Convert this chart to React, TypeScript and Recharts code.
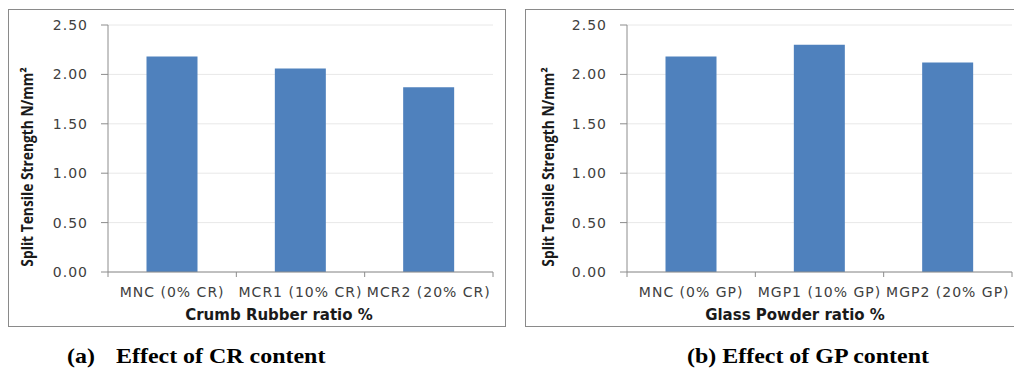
import React from "react";
import { BarChart, Bar, XAxis, YAxis, CartesianGrid } from "recharts";

const crCategories = ["MNC (0% CR)", "MCR1 (10% CR)", "MCR2 (20% CR)"];
const crValues = [2.18, 2.06, 1.87];
const gpCategories = ["MNC (0% GP)", "MGP1 (10% GP)", "MGP2 (20% GP)"];
const gpValues = [2.18, 2.3, 2.12];
const yTicks = [0, 0.5, 1, 1.5, 2, 2.5];
const yTitle = "Split Tensile Strength N/mm²";

const C = {
  bar: "#4F81BD",
  axis: "#8c8c8c",
  grid: "#e8e8e8",
  tick: "#404040",
  title: "#1a1a1a",
  border: "#8a8a8a",
};

const TICK_FONT = "'DejaVu Sans', sans-serif";

interface PanelProps {
  left: number;
  top: number;
  width: number;
  height: number;
  yAxisWidth: number;
  marginRight: number;
  marginTop: number;
  categories: string[];
  values: number[];
  xTitle: string;
  xTitleX: number;
  yTitleX: number;
}

function Panel(p: PanelProps) {
  const data = p.categories.map((c, i) => ({ name: c, value: p.values[i] }));
  const plotW = p.width - p.yAxisWidth - p.marginRight;
  const bandW = plotW / p.categories.length;
  const n = p.categories.length;

  // category boundary ticks like Excel, label centred under each bar
  const renderTick = (props: any) => {
    const { x, y, payload, index } = props;
    return (
      <g>
        <line x1={x - bandW / 2} x2={x - bandW / 2} y1={y} y2={y + 5} stroke={C.axis} />
        {index === n - 1 && (
          <line x1={x + bandW / 2} x2={x + bandW / 2} y1={y} y2={y + 5} stroke={C.axis} />
        )}
        <text
          x={x}
          y={y + 20}
          dy="0.35em"
          textAnchor="middle"
          fill={C.tick}
          style={{ fontFamily: TICK_FONT, fontSize: 14, letterSpacing: 1 }}
        >
          {payload.value}
        </text>
      </g>
    );
  };

  return (
    <div
      style={{
        position: "absolute",
        left: p.left,
        top: p.top,
        width: p.width,
        height: p.height,
        border: `1px solid ${C.border}`,
        background: "#fff",
      }}
    >
      <BarChart
        width={p.width}
        height={p.height}
        data={data}
        margin={{ top: p.marginTop, right: p.marginRight, left: 0, bottom: 0 }}
        barCategoryGap="30%"
      >
        <CartesianGrid vertical={false} stroke={C.grid} />
        <XAxis
          dataKey="name"
          height={p.height - p.marginTop - 247}
          axisLine={{ stroke: C.axis }}
          tickLine={false}
          tickSize={0}
          tickMargin={0}
          interval={0}
          tick={renderTick}
        />
        <YAxis
          width={p.yAxisWidth}
          domain={[0, 2.5]}
          ticks={yTicks}
          tickFormatter={(v: number) => v.toFixed(2)}
          axisLine={{ stroke: C.axis }}
          tickLine={{ stroke: C.axis }}
          tickSize={7}
          tickMargin={13}
          tick={{ fill: C.tick, fontSize: 14, fontFamily: TICK_FONT, letterSpacing: 1 }}
        />
        <Bar dataKey="value" fill={C.bar} isAnimationActive={false} />
      </BarChart>
      <div
        style={{
          position: "absolute",
          left: p.yTitleX,
          top: 157,
          transform: "translate(-50%, -50%) scaleX(1.1) rotate(-90deg)",
          whiteSpace: "nowrap",
          fontFamily: "'Open Sans', sans-serif",
          fontWeight: 700,
          fontSize: 13.8,
          color: C.title,
        }}
      >
        {yTitle}
      </div>
      <div
        style={{
          position: "absolute",
          left: p.xTitleX,
          top: 305,
          transform: "translate(-50%, -50%)",
          whiteSpace: "nowrap",
          fontFamily: TICK_FONT,
          fontWeight: 700,
          fontSize: 15,
          color: C.title,
        }}
      >
        {p.xTitle}
      </div>
    </div>
  );
}

const captionStyle: React.CSSProperties = {
  position: "absolute",
  top: 344,
  fontFamily: "'Liberation Serif', 'Times New Roman', serif",
  fontWeight: 700,
  fontSize: 21,
  lineHeight: "normal",
  whiteSpace: "pre",
  color: "#000",
  transform: "scaleX(1.14)",
  transformOrigin: "left center",
};

export default function App() {
  return (
    <div
      style={{
        position: "absolute",
        left: 0,
        top: 0,
        width: 1014,
        height: 372,
        overflow: "hidden",
        background: "#fff",
      }}
    >
      <Panel
        left={8}
        top={9}
        width={496}
        height={316}
        yAxisWidth={99}
        marginRight={12}
        marginTop={15}
        categories={crCategories}
        values={crValues}
        xTitle="Crumb Rubber ratio %"
        xTitleX={270}
        yTitleX={18}
      />
      <Panel
        left={525}
        top={9}
        width={494}
        height={316}
        yAxisWidth={101}
        marginRight={8}
        marginTop={15}
        categories={gpCategories}
        values={gpValues}
        xTitle="Glass Powder ratio %"
        xTitleX={269}
        yTitleX={21.5}
      />
      <div style={{ ...captionStyle, left: 67 }}>{"(a)"}</div>
      <div style={{ ...captionStyle, left: 116 }}>{"Effect of CR content"}</div>
      <div style={{ ...captionStyle, left: 687 }}>{"(b) Effect of GP content"}</div>
    </div>
  );
}
